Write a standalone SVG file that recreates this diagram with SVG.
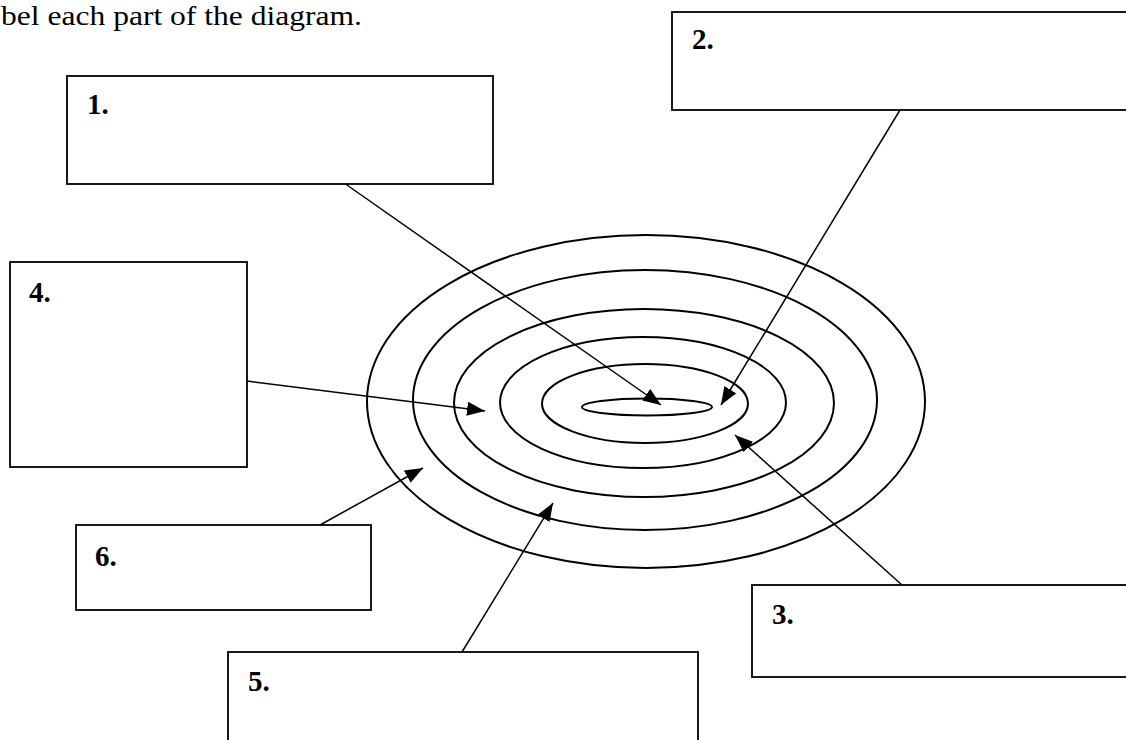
<svg xmlns="http://www.w3.org/2000/svg" width="1126" height="740" viewBox="0 0 1126 740">
<defs>
<style>
.box{fill:#fff;stroke:#000;stroke-width:1.8}
.ring{fill:none;stroke:#000;stroke-width:2}
.con{fill:none;stroke:#000;stroke-width:1.5}
.lbl{font-family:'Liberation Serif',serif;font-weight:bold;font-size:29px;fill:#000}
.title{font-family:'Liberation Serif',serif;font-size:27px;fill:#000}
</style>
<marker id="arr" markerUnits="userSpaceOnUse" markerWidth="20" markerHeight="16" viewBox="0 0 20 16" refX="18" refY="8" orient="auto">
<path d="M0,1 L18,8 L0,15 Z" fill="#000"/>
</marker>
</defs>
<rect width="1126" height="740" fill="#fff"/>
<text class="title" x="1" y="24.5" textLength="361" lengthAdjust="spacingAndGlyphs">bel each part of the diagram.</text>
<g id="rings">
<ellipse class="ring" cx="646" cy="401.5" rx="279" ry="166.5"/>
<ellipse class="ring" cx="645" cy="400" rx="232" ry="130"/>
<ellipse class="ring" cx="644" cy="403" rx="190" ry="94"/>
<ellipse class="ring" cx="643" cy="402.5" rx="143" ry="65.5"/>
<ellipse class="ring" cx="645" cy="403.5" rx="103" ry="39.5"/>
<ellipse class="ring" cx="647" cy="407" rx="65" ry="8.5"/>
</g>
<g id="node1"><rect class="box" x="67" y="76" width="426" height="108"/><text class="lbl" x="87" y="114">1.</text></g>
<g id="node2"><rect class="box" x="672" y="12" width="470" height="98"/><text class="lbl" x="692" y="49">2.</text></g>
<g id="node3"><rect class="box" x="752" y="585" width="390" height="92"/><text class="lbl" x="772" y="624">3.</text></g>
<g id="node4"><rect class="box" x="10" y="262" width="237" height="205"/><text class="lbl" x="29" y="302">4.</text></g>
<g id="node5"><rect class="box" x="228" y="652" width="470" height="100"/><text class="lbl" x="248" y="691">5.</text></g>
<g id="node6"><rect class="box" x="76" y="525" width="295" height="85"/><text class="lbl" x="95" y="566">6.</text></g>
<g id="connectors">
<line class="con" x1="345.5" y1="184" x2="661" y2="405" marker-end="url(#arr)"/>
<line class="con" x1="900" y1="110" x2="721" y2="405" marker-end="url(#arr)"/>
<line class="con" x1="902" y1="585" x2="735" y2="435" marker-end="url(#arr)"/>
<line class="con" x1="247" y1="381" x2="485" y2="411" marker-end="url(#arr)"/>
<line class="con" x1="462" y1="652" x2="553" y2="503" marker-end="url(#arr)"/>
<line class="con" x1="320" y1="525" x2="423" y2="468" marker-end="url(#arr)"/>
</g>
</svg>
